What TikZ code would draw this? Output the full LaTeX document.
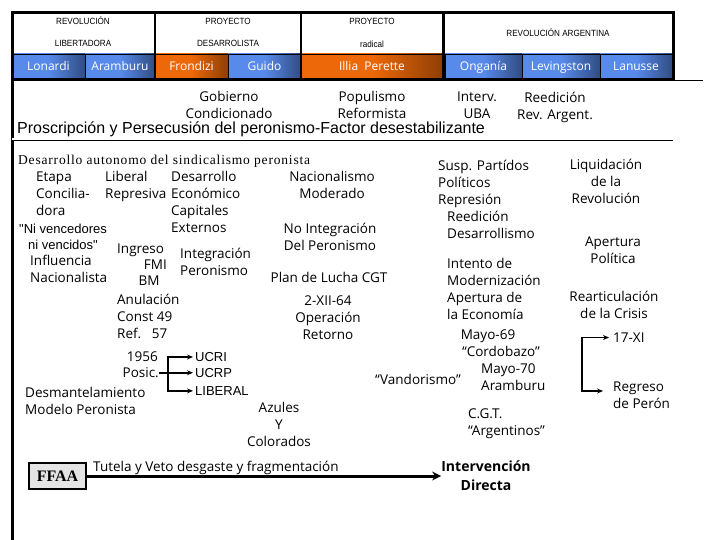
\documentclass[tikz,border=0pt]{standalone}
\usepackage{fontspec}
\setmainfont{Open Sans}
\newfontfamily\arialfont{Liberation Sans}
\newfontfamily\hdrfont{Liberation Sans}[FakeStretch=0.9]
\newfontfamily\serifline{Liberation Serif}[LetterSpace=6]
\newfontfamily\ffaafont{Liberation Serif}
\definecolor{hdrblue}{RGB}{88,138,235}
\definecolor{hdrorange}{RGB}{236,104,8}
\definecolor{ffaagray}{RGB}{228,228,228}
\usetikzlibrary{arrows.meta,positioning}

\begin{document}
\begin{tikzpicture}[x=1pt,y=-1pt,
  txt/.style={inner sep=0pt, align=left, font=\fontsize{13.5}{17}\selectfont},
  ctxt/.style={txt, align=center},
  arialtxt/.style={inner sep=0pt, align=left, font=\arialfont\fontsize{13}{16}\selectfont},
  hdr/.style={inner sep=0pt, text height=6.5pt, text depth=0pt, font=\hdrfont\fontsize{9}{10}\selectfont},
  cell/.style={draw=black, line width=0.6pt, minimum height=24pt, inner sep=0pt, text=white, text height=8.6pt, text depth=0pt, font=\fontsize{12}{12}\selectfont},
  bluecell/.style={cell, left color=hdrblue, right color=hdrblue!55!black, middle color=hdrblue},
  orangecell/.style={cell, left color=hdrorange, right color=hdrorange!60!black, middle color=hdrorange},
  conn/.style={line width=1.6pt}]
  \useasboundingbox (0,0) rectangle (720,540);
  % Header cells
  \node[bluecell, minimum width=73pt] (lonardi) at (48.5,66) {Lonardi};
  \node[bluecell, minimum width=70pt] (aramburu) at (120,66) {Aramburu};
  \node[orangecell, minimum width=73pt] (frondizi) at (191.5,66) {Frondizi};
  \node[bluecell, minimum width=73pt] (guido) at (264.5,66) {Guido};
  \node[orangecell, minimum width=142pt] (illia) at (372,66) {Illia\ \ Perette};
  \node[bluecell, minimum width=77pt] (ongania) at (483.5,66) {Onganía};
  \node[bluecell, minimum width=78pt] (levingston) at (561,66) {Levingston};
  \node[bluecell, minimum width=72pt] (lanusse) at (636,66) {Lanusse};
  % Header frame
  \draw[line width=3pt] (12,540) -- (12,13) -- (443,13) -- (443,80) -- (12,80);
  \draw[line width=3pt] (443,13) rectangle (673,80);
  \draw[line width=1.5pt] (155,13) -- (155,78);
  \draw[line width=1.5pt] (301,13) -- (301,78);
  \draw[line width=0.8pt] (673,80) -- (703,80);
  \node[hdr] (revlib1) at (83,21) {REVOLUCIÓN};
  \node[hdr] (revlib2) at (83,43) {LIBERTADORA};
  \node[hdr] (desa1) at (228,21) {PROYECTO};
  \node[hdr] (desa2) at (228,43) {DESARROLISTA};
  \node[hdr] (rad1) at (372,21) {PROYECTO};
  \node[hdr] (rad2) at (372,44) {radical};
  \node[hdr] (revarg) at (558,33) {REVOLUCIÓN ARGENTINA};
  % Governments
  \node[ctxt, anchor=north] (gobierno) at (229,91.5) {Gobierno\\Condicionado};
  \node[ctxt, anchor=north] (populismo) at (372,91.5) {Populismo\\Reformista};
  \node[ctxt, anchor=north] (intervuba) at (477,91.5) {Interv.\\UBA};
  \node[ctxt, anchor=north] (reedrev) at (555,91.5) {Reedición\\Rev. Argent.};
  \node[inner sep=0pt, anchor=base west, font=\arialfont\fontsize{16}{18}\selectfont] (proscrip) at (17,133.5) {\underline{Proscripción y Persecusión del peronismo-Factor desestabilizante}};
  \draw[double, double distance=2pt, line width=0.8pt] (12,139.5) -- (673,139.5);
  % Left block
  \node[inner sep=0pt, anchor=base west, font=\serifline\fontsize{13.5}{15}\selectfont] (desaut) at (18,165) {Desarrollo autonomo del sindicalismo peronista};
  \node[txt, anchor=north west] (etapa) at (36,171.5) {Etapa\\Concilia-\\dora};
  \node[txt, anchor=north west] (liberal) at (105,171.5) {Liberal\\Represiva};
  \node[txt, anchor=north west] (desarrollo) at (171,171.5) {Desarrollo\\Económico\\Capitales\\Externos};
  \node[ctxt, anchor=north] (nacmod) at (332,171.5) {Nacionalismo\\Moderado};
  \node[arialtxt, align=center, anchor=north] (nivenc) at (63,223.5) {"Ni vencedores\\ni vencidos"};
  \node[txt, anchor=north west] (influencia) at (30,254.5) {Influencia\\Nacionalista};
  \node[txt, anchor=north west] (ingreso) at (117,243.5) {Ingreso};
  \node[txt, anchor=north east] (fmi) at (167,259.5) {FMI};
  \node[txt, anchor=north] (bm) at (149,275.5) {BM};
  \node[txt, anchor=north west] (integracion) at (180,247.5) {Integración\\Peronismo};
  \node[ctxt, anchor=north] (nointeg) at (330,222.5) {No Integración\\Del Peronismo};
  \node[ctxt, anchor=north] (planlucha) at (329,272.5) {Plan de Lucha CGT};
  \node[txt, anchor=north west] (anulacion) at (117,293.5) {Anulación\\Const 49\\Ref.\ \ \ 57};
  \node[ctxt, anchor=north] (retorno) at (328,295.5) {2-XII-64\\Operación\\Retorno};
  \node[txt, anchor=north east] (yr56) at (158,351.5) {1956};
  \node[txt, anchor=north east] (posic) at (159,367.5) {Posic.};
  \node[arialtxt, anchor=north west] (ucri) at (195,352.2) {UCRI};
  \node[arialtxt, anchor=north west] (ucrp) at (195,368.2) {UCRP};
  \node[arialtxt, anchor=north west] (liberalp) at (195,386.2) {LIBERAL};
  \node[txt, anchor=north west] (desmant) at (25,387.5) {Desmantelamiento\\Modelo Peronista};
  \node[ctxt, anchor=north] (azules) at (279,402.5) {Azules\\Y\\Colorados};
  % Right block
  \node[txt, anchor=north west] (susp) at (438,159.5) {Susp. Partídos\\Políticos\\Represión};
  \node[txt, anchor=north west] (reedicion) at (447,210.5) {Reedición\\Desarrollismo};
  \node[txt, anchor=north west] (intento) at (447,258.5) {Intento de\\Modernización\\Apertura de\\la Economía};
  \node[ctxt, anchor=north] (liquidacion) at (606,158.5) {Liquidación\\de la\\Revolución};
  \node[ctxt, anchor=north] (apertura) at (613,236.5) {Apertura\\Política};
  \node[ctxt, anchor=north] (rearticulacion) at (614,290.5) {Rearticulación\\de la Crisis};
  \node[ctxt, anchor=north] (mayo69) at (488,329.5) {Mayo-69};
  \node[ctxt, anchor=north] (cordobazo) at (501,346.5) {“Cordobazo”};
  \node[txt, anchor=north west] (mayo70) at (481,363.5) {Mayo-70\\Aramburu};
  \node[ctxt, anchor=north] (vandorismo) at (418,374.5) {“Vandorismo”};
  \node[txt, anchor=north west] (cgt) at (468,408.5) {C.G.T.\\“Argentinos”};
  \node[txt, anchor=north west] (xvii) at (613,332.5) {17-XI};
  \node[txt, anchor=north west] (regreso) at (613,381.5) {Regreso\\de Perón};
  % FFAA
  \node[draw=black, line width=2.5pt, fill=ffaagray, minimum width=57pt, minimum height=26pt, inner sep=0pt, font=\ffaafont\bfseries\fontsize{16}{16}\selectfont] (ffaa) at (57.5,476) {FFAA};
  \node[txt, anchor=north west] (tutela) at (93,460.5) {Tutela y Veto desgaste y fragmentación};
  \node[ctxt, anchor=north, font=\bfseries\fontsize{14}{19}\selectfont] (interv) at (486,460.5) {Intervención\\Directa};
  % Arrows
  \coordinate (ucrx) at (168,0);
  \coordinate (brx) at (582,0);
  \coordinate (regin) at ([yshift=-9.5pt]regreso.north west);
  \draw[conn, {Stealth[length=6pt,width=5pt]}-{Stealth[length=6pt,width=5pt]}, shorten <=2pt, shorten >=2pt] (ucri.west) -- (ucri.west -| ucrx) -- (liberalp.west -| ucrx) -- (liberalp.west);
  \draw[conn, -{Stealth[length=6pt,width=5pt]}, shorten >=2pt] (posic.east) -- (posic.east -| ucrp.west);
  \draw[conn, {Stealth[length=6pt,width=5pt]}-{Stealth[length=6pt,width=5pt]}, shorten <=4pt, shorten >=10pt] (xvii.west) -- (xvii.west -| brx) -- (regin -| brx) -- (regin);
  \draw[line width=3pt, -{Stealth[length=9pt,width=9pt]}] (ffaa.east) -- (ffaa.east -| interv.west);
\end{tikzpicture}
\end{document}
